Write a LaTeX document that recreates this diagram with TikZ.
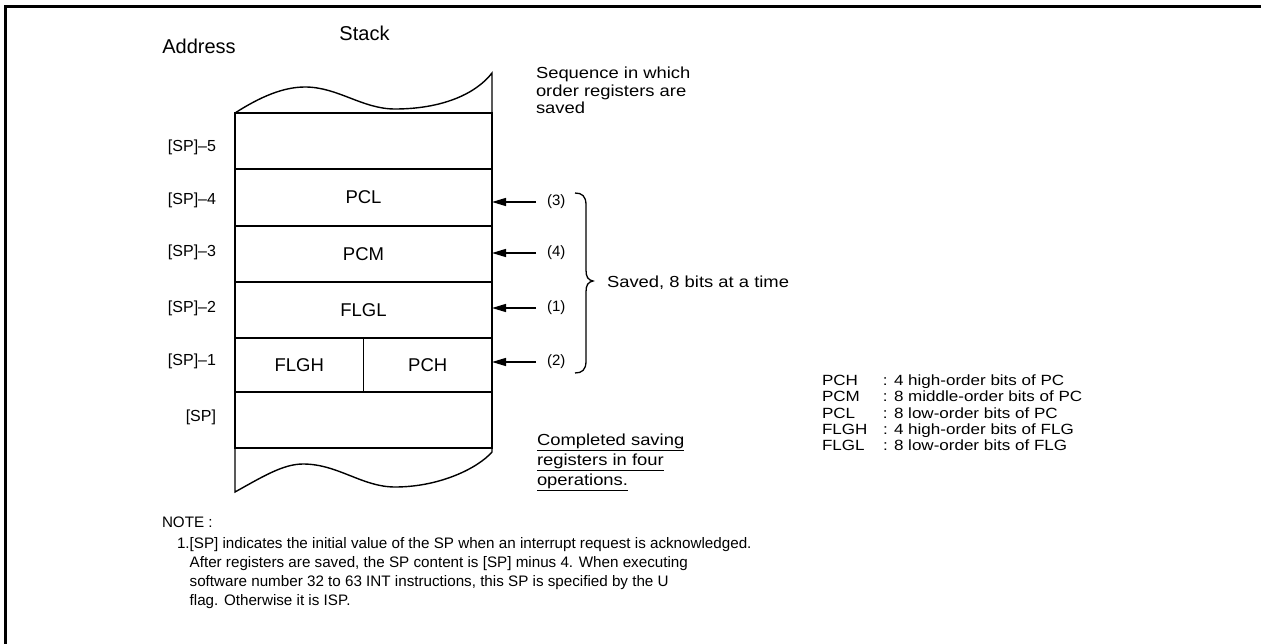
\documentclass[tikz,border=0pt]{standalone}
\usepackage{fontspec}
\setmainfont{Liberation Sans}
\newfontfamily\widefont[FakeStretch=1.15]{Liberation Sans}
\usetikzlibrary{arrows.meta}
\begin{document}
\begin{tikzpicture}[x=1pt,y=-1pt,
  every node/.style={inner sep=0pt, outer sep=0pt},
  ln/.style={line width=1.4pt},
  row/.style={draw, line width=1.4pt, minimum width=257pt, minimum height=#1, font=\fontsize{18.5}{22}\selectfont},
  half/.style={draw, line width=1.4pt, minimum width=128.5pt, minimum height=#1, font=\fontsize{18.5}{22}\selectfont},
  addr/.style={anchor=east, font=\fontsize{16}{19}\selectfont},
  ord/.style={anchor=west, font=\fontsize{15}{17}\selectfont},
  arr/.style={-{Triangle[length=14pt,width=8pt]}, line width=1.4pt},
  txt/.style={anchor=north west, align=left, font=\widefont\fontsize{16}{17.5}\selectfont},
  head/.style={font=\fontsize{20}{24}\selectfont},
  legend/.style={anchor=north west, align=left, font=\widefont\fontsize{14.8}{16.2}\selectfont},
  note/.style={anchor=north west, align=left, font=\fontsize{15.2}{19}\selectfont}]
\useasboundingbox (0,0) rectangle (1261,644);
% frame
\draw[line width=3pt] (1261,6.5) -- (5.5,6.5) -- (5.5,644);
% headings
\node[head] (addrhead) at (199,46) {Address};
\node[head] (stackhead) at (364.5,33) {Stack};
% stack rows
\node[row=56pt] (r5) at (363.5,141) {};
\node[row=57pt] (r4) at (363.5,197.5) {PCL};
\node[row=56pt] (r3) at (363.5,254) {PCM};
\node[row=56pt] (r2) at (363.5,310) {FLGL};
\node[half=54pt] (r1a) at (299.25,365) {FLGH};
\node[half=54pt] (r1b) at (427.75,365) {PCH};
\node[row=56pt] (r0) at (363.5,420) {};
% wavy top and bottom
\draw[ln] (r5.north west) .. controls (260,97) and (283,87) .. (305,87)
  .. controls (338,87) and (362,109) .. (395,109)
  .. controls (440,109) and (475,95) .. (492,73) -- (r5.north east);
\draw[ln] (r0.south west) -- (235,492) .. controls (262,477) and (283,464) .. (303,464)
  .. controls (338,464) and (362,487) .. (395,487)
  .. controls (440,487) and (478,468) .. (492,452) -- (r0.south east);
% address labels
\node[addr] (a5) at (216,147) {[SP]–5};
\node[addr] (a4) at (216,200) {[SP]–4};
\node[addr] (a3) at (216,252) {[SP]–3};
\node[addr] (a2) at (216,308) {[SP]–2};
\node[addr] (a1) at (216,361) {[SP]–1};
\node[addr] (a0) at (216,417) {[SP]};
% order labels and arrows
\node[ord] (o3) at (547,202) {(3)};
\node[ord] (o4) at (547,253) {(4)};
\node[ord] (o1) at (547,308) {(1)};
\node[ord] (o2) at (547,362) {(2)};
\draw[arr] ([xshift=-11pt]o3.west) -- (o3.west -| r4.east);
\draw[arr] ([xshift=-11pt]o4.west) -- (o4.west -| r3.east);
\draw[arr] ([xshift=-11pt]o1.west) -- (o1.west -| r2.east);
\draw[arr] ([xshift=-11pt]o2.west) -- (o2.west -| r1b.east);
% brace
\draw[line width=1.3pt] (575,193) .. controls (582,193) and (586,196) .. (586,205) -- (586,270)
  .. controls (586,277) and (588,280) .. (593,281)
  .. controls (588,282) and (586,285) .. (586,292) -- (586,361)
  .. controls (586,370) and (582,373) .. (575,373);
\node[anchor=west, font=\widefont\fontsize{16}{18}\selectfont] (saved) at (607,283) {Saved, 8 bits at a time};
% texts
\node[txt] (seq) at (536,67) {Sequence in which\\order registers are\\saved};
\node[txt, font=\widefont\fontsize{16}{20}\selectfont] (done) at (537,434) {\underline{Completed saving}\\\underline{registers in four}\\\underline{operations.}};
% legend
\node[legend] (leg) at (822,375) {%
\makebox[61pt][l]{PCH}: 4 high-order bits of PC\\
\makebox[61pt][l]{PCM}: 8 middle-order bits of PC\\
\makebox[61pt][l]{PCL}: 8 low-order bits of PC\\
\makebox[61pt][l]{FLGH}: 4 high-order bits of FLG\\
\makebox[61pt][l]{FLGL}: 8 low-order bits of FLG};
% note
\node[note] (notehead) at (162,517) {NOTE :};
\node[note] (notebody) at (177,535) {\begin{tabular}{@{}l@{}l@{}}
1. & [SP] indicates the initial value of the SP when an interrupt request is acknowledged.\\
 & After registers are saved, the SP content is [SP] minus 4. When executing\\
 & software number 32 to 63 INT instructions, this SP is specified by the U\\
 & flag. Otherwise it is ISP.
\end{tabular}};
\end{tikzpicture}
\end{document}
